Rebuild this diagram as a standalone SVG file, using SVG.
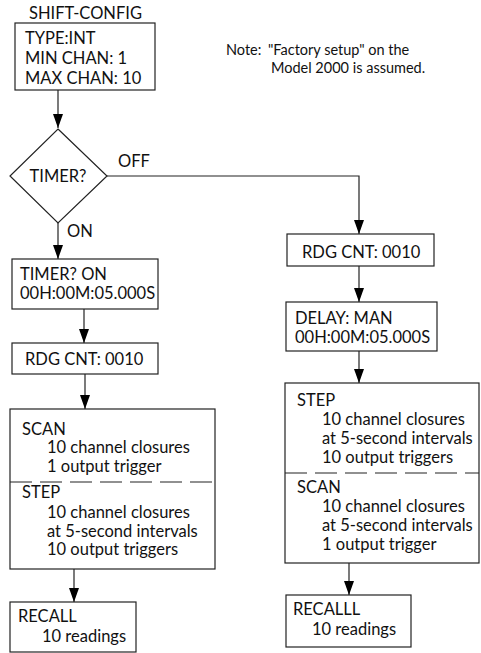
<svg xmlns="http://www.w3.org/2000/svg" width="481" height="653" viewBox="0 0 481 653">
<style>
text{font-family:Lato,"Open Sans","Liberation Sans",sans-serif;font-size:16.5px;fill:#111}
.s{font-size:14.5px}
.b{fill:#fff;stroke:#222;stroke-width:1.2}
.c{fill:none;stroke:#222;stroke-width:1.2}
.d{stroke:#222;stroke-width:1.2;stroke-dasharray:22 8;fill:none}
</style>
<defs>
<marker id="a" viewBox="0 0 14 10" refX="14" refY="5" markerWidth="14" markerHeight="10" markerUnits="userSpaceOnUse" orient="auto">
<path d="M0,0 L14,5 L0,10 Z" fill="#000"/>
</marker>
</defs>
<g id="connectors">
<line class="c" x1="58" y1="90" x2="58" y2="128" marker-end="url(#a)"/>
<line class="c" x1="58" y1="223" x2="58" y2="259" marker-end="url(#a)"/>
<polyline class="c" points="107,176 359,176 359,234" marker-end="url(#a)"/>
<line class="c" x1="84" y1="309" x2="84" y2="343" marker-end="url(#a)"/>
<line class="c" x1="85" y1="374" x2="85" y2="409" marker-end="url(#a)"/>
<line class="c" x1="74" y1="569" x2="74" y2="602" marker-end="url(#a)"/>
<line class="c" x1="359" y1="266" x2="359" y2="302" marker-end="url(#a)"/>
<line class="c" x1="359" y1="351" x2="359" y2="383" marker-end="url(#a)"/>
<line class="c" x1="349" y1="563" x2="349" y2="595" marker-end="url(#a)"/>
<text x="118" y="167">OFF</text>
<text x="67" y="237">ON</text>
</g>
<g id="note">
<text class="s" x="226" y="55">Note:</text>
<text class="s" x="268" y="55">"Factory setup" on the</text>
<text class="s" x="271" y="73">Model 2000 is assumed.</text>
</g>
<g id="shift-config">
<text x="29" y="19">SHIFT-CONFIG</text>
<rect class="b" x="15" y="23" width="140" height="67"/>
<text x="25" y="44">TYPE:INT</text>
<text x="25" y="64">MIN CHAN: 1</text>
<text x="25" y="84">MAX CHAN: 10</text>
</g>
<g id="timer-decision">
<polygon class="b" points="58,129 107,176 58,223 10,176"/>
<text x="58" y="182" text-anchor="middle">TIMER?</text>
</g>
<g id="timer-on">
<rect class="b" x="12" y="259" width="146" height="50"/>
<text x="20" y="280">TIMER? ON</text>
<text x="20" y="299">00H:00M:05.000S</text>
</g>
<g id="rdg-left">
<rect class="b" x="12" y="343" width="146" height="31"/>
<text x="25" y="365">RDG CNT: 0010</text>
</g>
<g id="scan-step-left">
<rect class="b" x="10" y="409" width="205" height="160"/>
<line class="d" x1="10" y1="482" x2="215" y2="482"/>
<text x="22" y="435">SCAN</text>
<text x="47" y="453">10 channel closures</text>
<text x="47" y="472">1 output trigger</text>
<text x="22" y="498">STEP</text>
<text x="47" y="518">10 channel closures</text>
<text x="47" y="537">at 5-second intervals</text>
<text x="47" y="555">10 output triggers</text>
</g>
<g id="recall-left">
<rect class="b" x="10" y="602" width="126" height="50"/>
<text x="18" y="622">RECALL</text>
<text x="42" y="642">10 readings</text>
</g>
<g id="rdg-right">
<rect class="b" x="287" y="234" width="147" height="32"/>
<text x="302" y="258">RDG CNT: 0010</text>
</g>
<g id="delay">
<rect class="b" x="286" y="302" width="151" height="49"/>
<text x="295" y="324">DELAY: MAN</text>
<text x="295" y="343">00H:00M:05.000S</text>
</g>
<g id="step-scan-right">
<rect class="b" x="285" y="383" width="194" height="180"/>
<line class="d" x1="285" y1="473" x2="479" y2="473"/>
<text x="297" y="406">STEP</text>
<text x="322" y="425">10 channel closures</text>
<text x="322" y="444">at 5-second intervals</text>
<text x="322" y="463">10 output triggers</text>
<text x="297" y="493">SCAN</text>
<text x="322" y="512">10 channel closures</text>
<text x="322" y="531">at 5-second intervals</text>
<text x="322" y="550">1 output trigger</text>
</g>
<g id="recall-right">
<rect class="b" x="286" y="595" width="125" height="52"/>
<text x="293" y="615">RECALLL</text>
<text x="312" y="635">10 readings</text>
</g>
</svg>
